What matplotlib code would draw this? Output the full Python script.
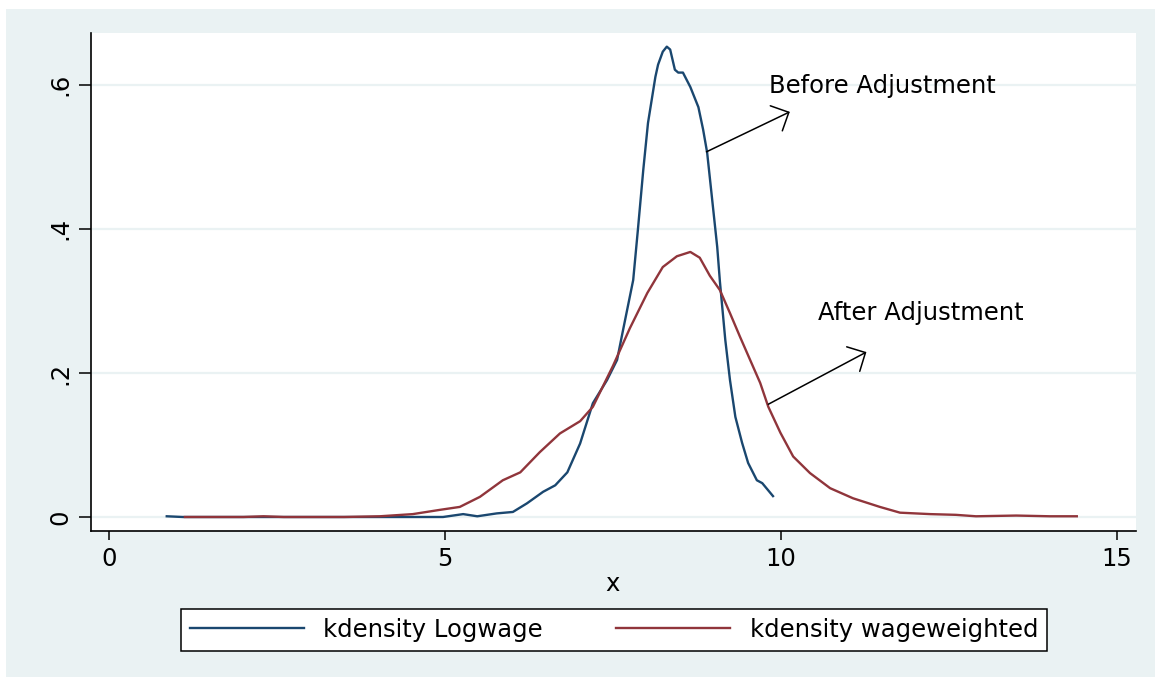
import numpy as np
import matplotlib
matplotlib.use("Agg")
import matplotlib.pyplot as plt
from matplotlib.patches import Rectangle
from matplotlib.lines import Line2D

# kernel density estimates, read as (x, density) pairs
logwage_x = [0.86, 1.1, 1.5, 2.0, 2.5, 3.0, 3.5, 4.0, 4.5, 4.97, 5.27, 5.48,
             5.77, 6.01, 6.22, 6.46, 6.64, 6.82, 7.01, 7.20, 7.41, 7.56, 7.65,
             7.80, 7.87, 7.95, 8.02, 8.13, 8.17, 8.24, 8.30, 8.35, 8.42, 8.47,
             8.54, 8.65, 8.77, 8.84, 8.90, 8.97, 9.05, 9.09, 9.17, 9.24, 9.32,
             9.42, 9.51, 9.64, 9.72, 9.88]
logwage_y = [0.001, 0.0, 0.0, 0.0, 0.0, 0.0, 0.0, 0.0, 0.0, 0.0, 0.004, 0.001,
             0.005, 0.007, 0.019, 0.035, 0.044, 0.062, 0.102, 0.158, 0.190,
             0.218, 0.260, 0.329, 0.399, 0.482, 0.547, 0.611, 0.628, 0.646,
             0.653, 0.649, 0.621, 0.617, 0.617, 0.597, 0.569, 0.538, 0.506,
             0.445, 0.375, 0.327, 0.246, 0.190, 0.139, 0.103, 0.075, 0.051,
             0.047, 0.029]

weighted_x = [1.13, 1.5, 2.0, 2.3, 2.6, 3.0, 3.5, 4.03, 4.52, 4.93, 5.22, 5.52,
              5.86, 6.12, 6.41, 6.71, 7.01, 7.20, 7.50, 7.75, 8.01, 8.24, 8.45,
              8.65, 8.79, 8.94, 9.09, 9.24, 9.39, 9.54, 9.69, 9.81, 9.99, 10.18,
              10.43, 10.73, 11.07, 11.47, 11.77, 12.22, 12.6, 12.9, 13.5, 14.0,
              14.4]
weighted_y = [0.0, 0.0, 0.0, 0.001, 0.0, 0.0, 0.0, 0.001, 0.004, 0.010, 0.014,
              0.028, 0.051, 0.062, 0.090, 0.116, 0.133, 0.153, 0.210, 0.262,
              0.311, 0.347, 0.362, 0.368, 0.360, 0.335, 0.315, 0.283, 0.250,
              0.218, 0.186, 0.153, 0.117, 0.084, 0.061, 0.040, 0.026, 0.014,
              0.006, 0.004, 0.003, 0.001, 0.002, 0.001, 0.001]

xticks = [0, 5, 10, 15]
yticks = [0, 0.2, 0.4, 0.6]
ytick_labels = ["0", ".2", ".4", ".6"]
series_labels = ["kdensity Logwage", "kdensity wageweighted"]

NAVY = "#1a476f"
MAROON = "#90353b"
BG = "#eaf2f3"

plt.rcParams["font.size"] = 17.5

fig = plt.figure(figsize=(11.55, 6.77), dpi=100)
fig.patch.set_facecolor("white")
# graph region panel (white margin at top and left)
fig.add_artist(Rectangle((6 / 1155, 0), 1, 1 - 9 / 677, transform=fig.transFigure,
                         facecolor=BG, edgecolor="none", zorder=0))

ax = fig.add_axes([0.0792, 0.2157, 0.9043, 0.7356])
ax.set_facecolor("white")
ax.set_xlim(-0.26, 15.28)
ax.set_ylim(-0.0194, 0.672)

for yv in yticks:
    ax.axhline(yv, color=BG, lw=1.6, zorder=1)

ax.plot(logwage_x, logwage_y, color=NAVY, lw=1.7, zorder=3,
        solid_joinstyle="round")
ax.plot(weighted_x, weighted_y, color=MAROON, lw=1.7, zorder=3,
        solid_joinstyle="round")

for s in ["top", "right"]:
    ax.spines[s].set_visible(False)
for s in ["left", "bottom"]:
    ax.spines[s].set_color("black")
    ax.spines[s].set_linewidth(1.2)

ax.set_xticks(xticks)
ax.set_yticks(yticks)
ax.set_yticklabels(ytick_labels, rotation=90, va="center")
ax.tick_params(axis="y", length=8.6, width=1.1, pad=5)
ax.tick_params(axis="x", length=6.7, width=1.1, pad=4.5)

ax.set_xlabel("x")
ax.xaxis.set_label_coords(0.4993, -0.1205)
ax.xaxis.label.set_verticalalignment("baseline")

head = "->,head_length=0.4,head_width=0.4"
ax.annotate("", xy=(10.13, 0.5625), xytext=(8.89, 0.507),
            arrowprops=dict(arrowstyle=head, color="black", lw=1.1,
                            mutation_scale=25, shrinkA=0, shrinkB=0))
ax.text(9.82, 0.588, "Before Adjustment", ha="left", va="baseline")
ax.annotate("", xy=(11.27, 0.229), xytext=(9.81, 0.1565),
            arrowprops=dict(arrowstyle=head, color="black", lw=1.1,
                            mutation_scale=25, shrinkA=0, shrinkB=0))
ax.text(10.55, 0.273, "After Adjustment", ha="left", va="baseline")

handles = [Line2D([], [], color=NAVY, lw=1.7), Line2D([], [], color=MAROON, lw=1.7)]
leg = fig.legend(handles, series_labels, loc="center", ncol=2,
                 bbox_to_anchor=(614 / 1155, 1 - 630 / 677),
                 frameon=True, fancybox=False, framealpha=1,
                 handlelength=4.7, handletextpad=0.8, columnspacing=3.0,
                 borderpad=0.35)
leg.get_frame().set_edgecolor("black")
leg.get_frame().set_linewidth(1.1)
leg.get_frame().set_facecolor("white")

fig.savefig("out.png", dpi=100, facecolor=fig.get_facecolor())
